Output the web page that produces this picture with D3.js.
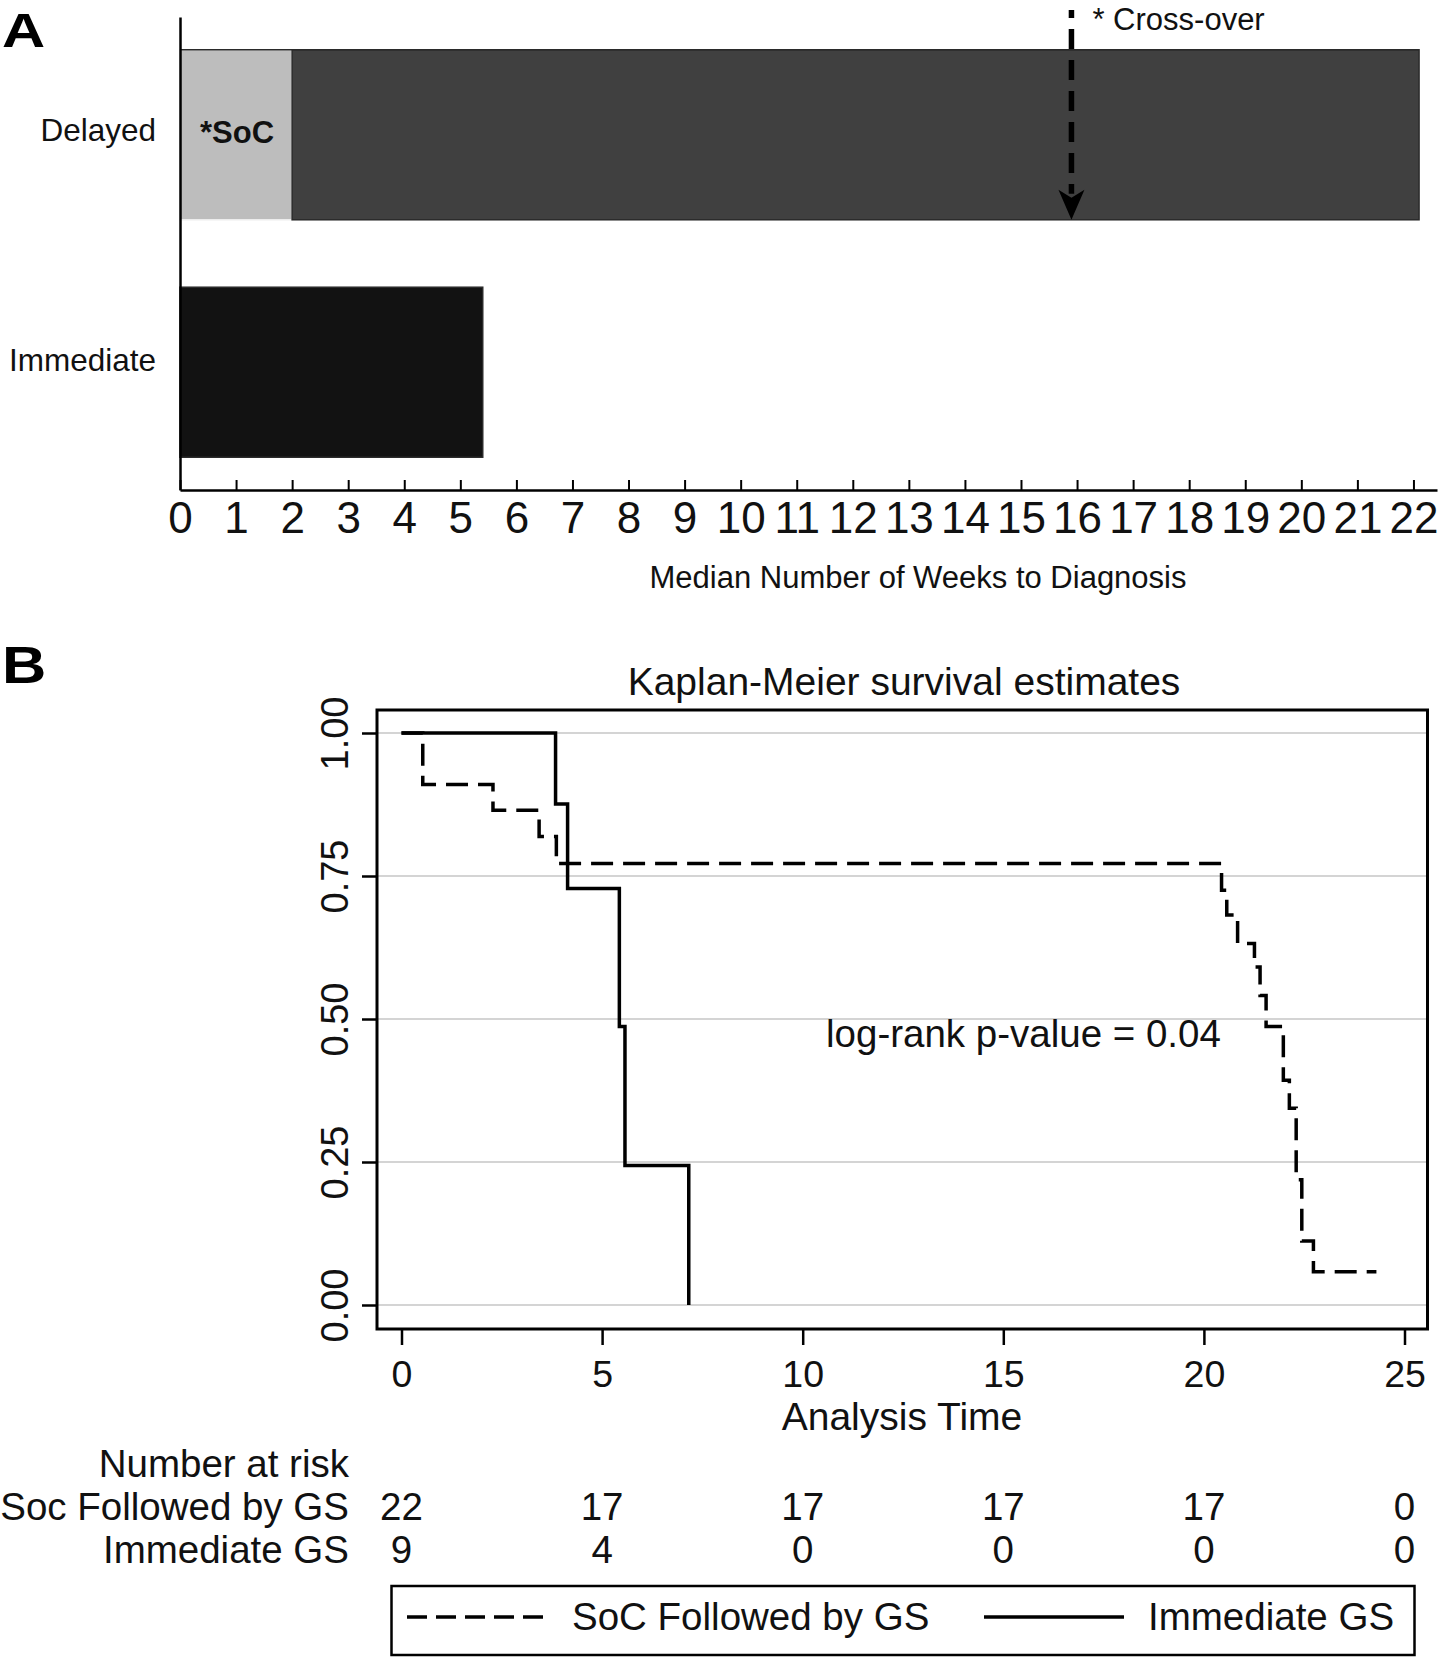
<!DOCTYPE html>
<html>
<head>
<meta charset="utf-8">
<script src="https://cdn.jsdelivr.net/npm/d3@7"></script>
<style>
  html, body { margin: 0; padding: 0; background: #fff; }
  svg { display: block; font-family: "Liberation Sans", Arial, Helvetica, sans-serif; }
</style>
</head>
<body>
<svg id="chart" width="1442" height="1659"></svg>
<script>
// ---------- Panel A data ----------
const categories = ["Delayed", "Immediate"];
const socWeeks = [2.0, 0];          // standard-of-care phase (weeks)
const gsWeeks = [20.1, 5.4];        // remaining weeks to diagnosis
const gsColors = ["#404040", "#121212"];
const crossoverWeek = 15.9;
const weekTicks = d3.range(0, 23);

// ---------- Panel B data (Kaplan-Meier) ----------
const socTimes = [0, 0.53, 2.28, 3.43, 3.86, 20.44, 20.57, 20.84, 21.26, 21.40, 21.55, 21.98, 22.13, 22.30, 22.44, 22.73, 24.30];
const socSurv  = [1.0, 0.910, 0.865, 0.819, 0.772, 0.725, 0.682, 0.632, 0.591, 0.541, 0.487, 0.393, 0.344, 0.219, 0.112, 0.058, 0.058];
const immTimes = [0, 3.84, 4.14, 5.43, 5.57, 7.16];
const immSurv  = [1.0, 0.876, 0.728, 0.487, 0.244, 0.0];
const timeTicks = [0, 5, 10, 15, 20, 25];
const survTicks = [0, 0.25, 0.5, 0.75, 1.0];
const riskLabels = ["Soc Followed by GS", "Immediate GS"];
const socRisk = [22, 17, 17, 17, 17, 0];
const immRisk = [9, 4, 0, 0, 0, 0];
const legendLabels = ["SoC Followed by GS", "Immediate GS"];

const svg = d3.select("#chart");

// ================= Panel A =================
const xA = d3.scaleLinear().domain([0, 22.42]).range([180, 1437]);
const yA = d3.scaleBand().domain(categories).range([17, 490]).paddingInner(0.284).paddingOuter(0.138);

svg.append("text").attr("transform", "translate(2,47) scale(1.22,1)")
  .attr("font-size", 49).attr("font-weight", "bold").text("A");

const gA = svg.append("g");
// SoC segment
gA.selectAll("rect.soc").data(categories.filter((c, i) => socWeeks[i] > 0)).join("rect")
  .attr("class", "soc")
  .attr("x", d => xA(0)).attr("y", d => yA(d))
  .attr("width", d => xA(socWeeks[categories.indexOf(d)]) - xA(0))
  .attr("height", yA.bandwidth())
  .attr("fill", "#bdbdbd").attr("stroke", "#eeeeee").attr("stroke-width", 1.5);
// GS segment
gA.selectAll("rect.gs").data(categories).join("rect")
  .attr("class", "gs")
  .attr("x", (d, i) => xA(socWeeks[i]))
  .attr("y", d => yA(d))
  .attr("width", (d, i) => xA(socWeeks[i] + gsWeeks[i]) - xA(socWeeks[i]))
  .attr("height", yA.bandwidth())
  .attr("fill", (d, i) => gsColors[i]).attr("stroke", "#2a2a2a").attr("stroke-width", 1.5);
gA.append("line")
  .attr("x1", xA(0)).attr("x2", xA(socWeeks[0] + gsWeeks[0]))
  .attr("y1", yA("Delayed")).attr("y2", yA("Delayed"))
  .attr("stroke", "#2a2a2a").attr("stroke-width", 1.5);

gA.append("text")
  .attr("x", (xA(0) + xA(socWeeks[0])) / 2 + 1)
  .attr("y", yA("Delayed") + yA.bandwidth() / 2 - 3)
  .attr("dy", "0.36em")
  .attr("text-anchor", "middle").attr("font-size", 31).attr("font-weight", "bold")
  .attr("fill", "#111").text("*SoC");

// axes A
const axA = d3.axisBottom(xA).tickValues(weekTicks).tickSize(-10).tickSizeOuter(0).tickPadding(12);
const gxA = svg.append("g").attr("transform", "translate(0,490)").call(axA);
gxA.select(".domain").attr("stroke", "#000").attr("stroke-width", 2.5);
gxA.selectAll(".tick line").attr("stroke", "#000").attr("stroke-width", 2);
gxA.selectAll(".tick text").attr("font-size", 44).attr("font-family", "Liberation Sans, Arial, sans-serif").attr("fill", "#111");

const ayA = d3.axisLeft(yA).tickSize(0).tickSizeOuter(0).tickPadding(24);
const gyA = svg.append("g").attr("transform", "translate(180,0)").call(ayA);
gyA.select(".domain").attr("stroke", "#000").attr("stroke-width", 2.5);
gyA.selectAll(".tick text").attr("font-size", 31.5).attr("font-family", "Liberation Sans, Arial, sans-serif")
  .attr("fill", "#111").attr("dy", (d, i) => i === 0 ? "0.2em" : "-0.05em");

svg.append("text").attr("x", 918).attr("y", 588).attr("text-anchor", "middle")
  .attr("font-size", 31).attr("fill", "#111").text("Median Number of Weeks to Diagnosis");

// cross-over arrow
const xc = xA(crossoverWeek);
const barBottom = yA("Delayed") + yA.bandwidth();
svg.append("line").attr("x1", xc).attr("x2", xc).attr("y1", 10).attr("y2", barBottom - 26)
  .attr("stroke", "#000").attr("stroke-width", 5.5).attr("stroke-dasharray", "20 11").attr("stroke-dashoffset", 12);
svg.append("path")
  .attr("d", `M${xc - 13},${barBottom - 30} L${xc},${barBottom - 22} L${xc + 13},${barBottom - 30} L${xc},${barBottom} Z`)
  .attr("fill", "#000");
svg.append("text").attr("x", xc + 21).attr("y", 30).attr("font-size", 31).attr("fill", "#111").text("* Cross-over");

// ================= Panel B =================
const xB = d3.scaleLinear().domain([0, 25]).range([401.5, 1404.5]);
const yB = d3.scaleLinear().domain([0, 1]).range([1305, 733]);
const frame = {x0: 377, x1: 1427.5, y0: 710, y1: 1329};

svg.append("text").attr("transform", "translate(2,683) scale(1.18,1)")
  .attr("font-size", 52).attr("font-weight", "bold").text("B");
svg.append("text").attr("x", 904).attr("y", 695).attr("text-anchor", "middle")
  .attr("font-size", 39).attr("fill", "#111").text("Kaplan-Meier survival estimates");

// gridlines
svg.append("g").selectAll("line").data(survTicks).join("line")
  .attr("x1", frame.x0).attr("x2", frame.x1)
  .attr("y1", d => yB(d)).attr("y2", d => yB(d))
  .attr("stroke", "#d4d4d4").attr("stroke-width", 2);

// frame
svg.append("rect").attr("x", frame.x0).attr("y", frame.y0)
  .attr("width", frame.x1 - frame.x0).attr("height", frame.y1 - frame.y0)
  .attr("fill", "none").attr("stroke", "#000").attr("stroke-width", 3);

// y axis
const ayB = d3.axisLeft(yB).tickValues(survTicks).tickFormat(d3.format(".2f")).tickSize(15).tickSizeOuter(0);
const gyB = svg.append("g").attr("transform", `translate(${frame.x0},0)`).call(ayB);
gyB.select(".domain").remove();
gyB.selectAll(".tick line").attr("stroke", "#000").attr("stroke-width", 2.5);
gyB.selectAll(".tick text")
  .attr("x", null).attr("dy", null)
  .attr("transform", "translate(-29,0) rotate(-90)")
  .attr("text-anchor", "middle")
  .attr("font-size", 38).attr("font-family", "Liberation Sans, Arial, sans-serif").attr("fill", "#111");

// x axis
const axB = d3.axisBottom(xB).tickValues(timeTicks).tickSize(16).tickSizeOuter(0).tickPadding(15);
const gxB = svg.append("g").attr("transform", `translate(0,${frame.y1})`).call(axB);
gxB.select(".domain").remove();
gxB.selectAll(".tick line").attr("stroke", "#000").attr("stroke-width", 2.5);
gxB.selectAll(".tick text").attr("font-size", 37.5).attr("font-family", "Liberation Sans, Arial, sans-serif").attr("fill", "#111");

svg.append("text").attr("x", 902).attr("y", 1430).attr("text-anchor", "middle")
  .attr("font-size", 39).attr("fill", "#111").text("Analysis Time");

// KM curves
const step = d3.line().x(d => xB(d[0])).y(d => yB(d[1])).curve(d3.curveStepAfter);
svg.append("path").datum(d3.zip(socTimes, socSurv)).attr("d", step)
  .attr("fill", "none").attr("stroke", "#000").attr("stroke-width", 3.5).attr("stroke-dasharray", "22 10");
svg.append("path").datum(d3.zip(immTimes, immSurv)).attr("d", step)
  .attr("fill", "none").attr("stroke", "#000").attr("stroke-width", 3.5);

svg.append("text").attr("x", 826).attr("y", 1047).attr("font-size", 38.5).attr("fill", "#111")
  .text("log-rank p-value = 0.04");

// number at risk table
svg.append("text").attr("x", 349).attr("y", 1477).attr("text-anchor", "end")
  .attr("font-size", 38.5).attr("fill", "#111").text("Number at risk");
const riskRows = [socRisk, immRisk];
const rowY = [1520, 1563];
riskRows.forEach((row, r) => {
  svg.append("text").attr("x", 349).attr("y", rowY[r]).attr("text-anchor", "end")
    .attr("font-size", 38.5).attr("fill", "#111").text(riskLabels[r]);
  svg.append("g").selectAll("text").data(row).join("text")
    .attr("x", (d, i) => xB(timeTicks[i])).attr("y", rowY[r])
    .attr("text-anchor", "middle").attr("font-size", 38.5).attr("fill", "#111")
    .text(d => d);
});

// legend
const lg = svg.append("g");
lg.append("rect").attr("x", 391.5).attr("y", 1586).attr("width", 1023).attr("height", 69)
  .attr("fill", "none").attr("stroke", "#000").attr("stroke-width", 2.5);
lg.append("line").attr("x1", 407).attr("x2", 543).attr("y1", 1617).attr("y2", 1617)
  .attr("stroke", "#000").attr("stroke-width", 3.5).attr("stroke-dasharray", "20 9");
lg.append("text").attr("x", 572).attr("y", 1630).attr("font-size", 38.5).attr("fill", "#111").text(legendLabels[0]);
lg.append("line").attr("x1", 984).attr("x2", 1124).attr("y1", 1617).attr("y2", 1617)
  .attr("stroke", "#000").attr("stroke-width", 3.5);
lg.append("text").attr("x", 1148).attr("y", 1630).attr("font-size", 38.5).attr("fill", "#111").text(legendLabels[1]);
</script>
</body>
</html>
